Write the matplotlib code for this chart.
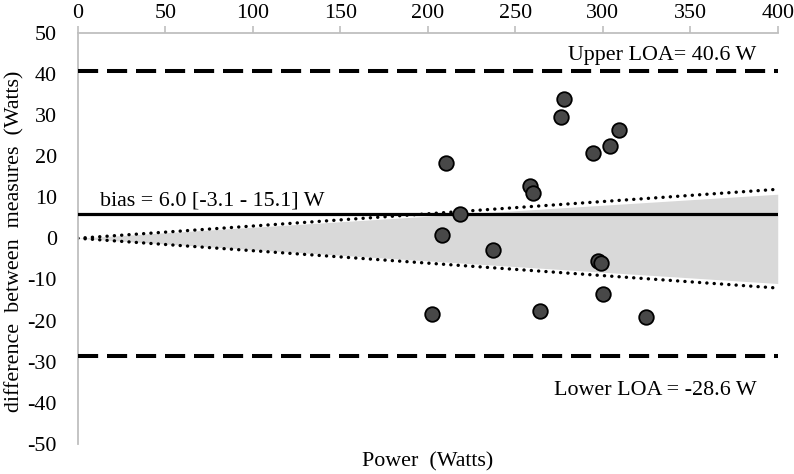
import matplotlib
matplotlib.use("Agg")
import matplotlib.pyplot as plt

# Bland-Altman data
power = [278.1, 276.0, 309.1, 304.2, 294.3, 210.3, 258.5, 260.0, 218.6, 208.3,
         237.5, 297.5, 299.0, 300.3, 202.6, 264.2, 324.6]
diff = [33.8, 29.4, 26.3, 22.5, 20.6, 18.2, 12.7, 11.1, 5.8, 0.9,
        -2.9, -5.5, -6.0, -13.5, -18.3, -17.8, -19.1]

bias = 6.0
upper_loa = 40.6
lower_loa = -28.6

# proportional bounds (shaded band and dotted lines) at x = 0 and x = 400
band_x = [0, 400]
band_hi = [0, 10.7]
band_lo = [0, -11.0]
dot_hi = [0, 11.9]
dot_lo = [0, -12.1]

plt.rcParams['font.family'] = ['Liberation Serif', 'DejaVu Serif']
plt.rcParams['axes.unicode_minus'] = False

fs = 15.8

fig = plt.figure(figsize=(7.94, 4.74), dpi=100)
ax = fig.add_axes([0.0979, 0.0633, 0.8816, 0.8681])

ax.fill_between(band_x, band_lo, band_hi, color='#d9d9d9', lw=0, zorder=1)
ax.plot(band_x, dot_hi, color='black', lw=2.4, linestyle=(0, (0.05, 2.15)),
        dash_capstyle='round', zorder=2)
ax.plot(band_x, dot_lo, color='black', lw=2.4, linestyle=(0, (0.05, 2.15)),
        dash_capstyle='round', zorder=2)

ax.axhline(bias, color='black', lw=2.3, zorder=3)
ax.axhline(upper_loa, color='black', lw=2.9, linestyle=(0, (5, 2.2)), zorder=3)
ax.axhline(lower_loa, color='black', lw=2.9, linestyle=(0, (5, 2.2)), zorder=3)

ax.scatter(power, diff, s=110, color='#484848', edgecolors='black',
           linewidths=1.3, zorder=4)

ax.text(388, 44.5, 'Upper LOA= 40.6 W', ha='right', va='center', fontsize=fs)
ax.text(388, -37, 'Lower LOA = -28.6 W', ha='right', va='center', fontsize=fs)
ax.text(12.7, 9, 'bias = 6.0 [-3.1 - 15.1] W', ha='left', va='center', fontsize=fs)

ax.set_xlim(0, 400)
ax.set_ylim(-50, 50)
ax.set_xticks(range(0, 401, 50))
ax.set_yticks(range(-50, 51, 10))
ax.xaxis.tick_top()
ax.tick_params(axis='x', direction='out', length=5, width=1.2, color='#bfbfbf',
               labelsize=fs, pad=2)
ax.tick_params(axis='y', length=0, labelsize=fs, pad=15)

for side in ['right', 'bottom']:
    ax.spines[side].set_visible(False)
for side in ['left', 'top']:
    ax.spines[side].set_color('#bfbfbf')
    ax.spines[side].set_linewidth(1.3)

fig.text(0.539, 0.025, 'Power  (Watts)', ha='center', va='center', fontsize=fs)
fig.text(0.018, 0.491, 'difference  between  measures  (Watts)', rotation=90,
         ha='center', va='center', fontsize=fs)

fig.savefig('out.png', dpi=100)
